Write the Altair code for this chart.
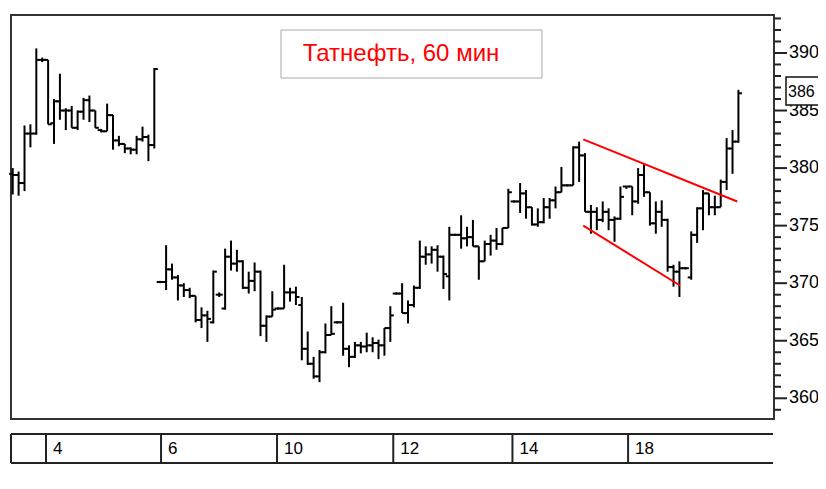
import altair as alt
import pandas as pd

# ---- OHLC data (60-min bars) ----
opens = [379.5, 379.4, 378.7, 383.0, 383.0, 389.4, 389.4, 383.9, 385.8, 385.0,
         385.0, 383.5, 384.9, 385.9, 385.0, 383.3, 383.2, 384.6, 382.4, 382.1,
         381.7, 381.6, 382.5, 382.7, 382.0,
         370.1, 370.1, 371.2, 370.5, 369.8, 369.4, 368.9, 366.8, 367.2, 366.6,
         369.0, 367.8, 372.3, 371.7, 371.9, 369.6, 370.2, 371.0, 366.3, 367.1,
         367.8, 367.8, 369.2, 369.2, 368.1, 364.3, 363.0, 361.9, 364.0, 365.5,
         366.6, 366.6, 364.3, 363.6, 364.6, 364.5, 364.6, 364.8, 364.6, 366.1,
         369.1, 369.1, 367.4, 368.1, 369.6, 372.3, 372.5, 372.9, 372.3, 370.6,
         374.2, 374.2, 373.9, 374.0, 373.2, 371.9, 373.4, 373.7, 373.4, 374.8,
         377.1, 377.1, 377.8, 376.6, 375.1, 375.3, 376.6, 377.2, 377.9, 378.5,
         378.5, 381.8, 381.1, 376.2, 376.2, 375.5, 376.2, 375.5, 375.6, 378.4,
         378.4, 377.1, 379.4, 377.9, 375.2, 376.2, 375.5, 371.4, 371.0, 371.3,
         370.5, 374.2, 376.5, 377.8, 376.6, 376.6, 378.8, 381.7, 382.3]
highs = [380.0, 379.7, 383.7, 383.8, 390.4, 389.6, 389.4, 386.0, 388.2, 385.2,
         385.4, 385.0, 386.1, 386.3, 385.0, 383.4, 385.6, 384.6, 382.8, 382.1,
         381.8, 382.8, 383.6, 382.9, 388.7,
         370.2, 373.3, 371.7, 370.7, 370.0, 369.6, 368.9, 367.9, 367.6, 371.1,
         369.2, 373.0, 373.7, 372.9, 372.0, 371.0, 371.8, 371.1, 367.2, 369.3,
         367.9, 371.6, 369.6, 369.7, 368.8, 365.8, 363.6, 364.2, 366.5, 368.0,
         366.7, 368.3, 364.6, 364.9, 364.9, 365.7, 365.3, 365.1, 366.1, 368.0,
         369.2, 370.0, 368.5, 369.8, 373.7, 373.2, 373.2, 373.3, 372.4, 374.9,
         374.3, 375.9, 374.9, 375.5, 373.2, 373.7, 374.2, 374.8, 374.8, 378.2,
         377.2, 378.7, 378.1, 376.6, 376.5, 377.4, 377.4, 378.4, 380.1, 378.6,
         381.9, 382.3, 381.3, 376.8, 376.6, 377.1, 376.5, 375.8, 378.4, 378.4,
         378.4, 380.0, 380.4, 377.9, 377.1, 377.2, 375.6, 371.6, 371.9, 371.4,
         374.5, 376.6, 378.1, 377.8, 377.6, 379.0, 382.6, 383.3, 386.8]
lows = [377.7, 377.6, 378.0, 381.8, 382.9, 389.2, 383.8, 382.1, 384.2, 383.3,
        383.5, 383.3, 384.2, 384.0, 383.5, 383.1, 383.2, 381.6, 381.9, 381.3,
        381.2, 381.2, 382.3, 380.6, 381.7,
        370.0, 369.4, 370.3, 368.5, 368.8, 368.7, 366.6, 366.1, 364.9, 366.5,
        368.8, 367.7, 371.1, 371.0, 369.5, 369.1, 369.3, 365.4, 364.9, 367.1,
        367.7, 367.8, 368.4, 368.1, 363.3, 362.9, 361.7, 361.4, 363.9, 365.5,
        366.5, 363.7, 362.7, 363.5, 363.9, 364.0, 364.0, 363.4, 363.7, 364.9,
        369.0, 367.4, 366.5, 367.9, 369.5, 371.6, 371.7, 371.0, 369.5, 368.5,
        374.1, 373.0, 373.2, 373.2, 370.3, 371.9, 372.4, 372.9, 373.3, 374.8,
        377.0, 376.1, 375.6, 375.0, 374.9, 375.2, 375.6, 376.5, 377.9, 378.4,
        378.5, 378.8, 376.2, 374.3, 374.6, 375.3, 374.6, 373.6, 375.5, 378.2,
        375.9, 376.9, 377.5, 375.0, 374.3, 374.9, 371.0, 369.7, 368.8, 371.2,
        370.3, 373.5, 374.6, 375.9, 375.9, 376.6, 378.1, 379.5, 382.2]
closes = [379.4, 378.7, 383.0, 383.0, 389.4, 389.4, 383.8, 385.8, 385.0, 385.0,
          383.5, 384.9, 385.9, 385.0, 383.5, 383.2, 384.6, 382.4, 382.1, 381.7,
          381.6, 382.5, 382.7, 382.0, 388.6,
          370.1, 371.2, 370.5, 369.8, 369.4, 368.9, 366.8, 367.2, 366.9, 371.0,
          369.0, 372.3, 371.7, 371.9, 369.6, 370.2, 371.0, 366.3, 367.1, 367.7,
          367.8, 369.2, 369.2, 368.8, 364.3, 363.0, 361.9, 364.0, 365.5, 365.6,
          366.6, 364.3, 363.6, 364.6, 364.5, 364.6, 364.8, 364.6, 366.1, 367.2,
          369.1, 367.4, 368.1, 369.6, 372.3, 372.5, 372.9, 372.3, 370.8, 374.2,
          374.2, 373.9, 374.0, 373.2, 371.9, 373.4, 373.7, 373.4, 374.8, 377.9,
          377.1, 377.8, 376.6, 375.1, 375.3, 376.6, 377.2, 377.9, 378.5, 378.5,
          381.8, 381.1, 376.2, 376.2, 375.5, 376.2, 375.5, 375.6, 377.5, 378.4,
          377.1, 379.4, 377.9, 375.2, 376.2, 375.5, 371.4, 371.0, 371.3, 371.3,
          374.2, 376.5, 377.8, 376.6, 376.6, 378.8, 381.7, 382.3, 386.5]

# ---- day separators on the bottom band (bar-index positions) ----
day_pos = [5.64, 25.14, 44.8, 64.5, 84.7, 104.3]
day_labels = ["4", "6", "10", "12", "14", "18"]

# ---- drawn trend lines (bar index, price) ----
trend_id = ["upper", "upper", "lower", "lower"]
trend_idx = [96.7, 122.8, 96.7, 113.1]
trend_price = [382.5, 377.1, 375.0, 369.8]

major_ticks = [360, 365, 370, 375, 380, 385, 390]
minor_ticks = [v for v in range(359, 394) if v % 5 != 0]

title_text = "Татнефть, 60 мин"
last_label = "386"

FONT = "Liberation Sans, Arial, sans-serif"
W, H = 763, 404

df = pd.DataFrame({"i": list(range(len(opens))), "o": opens, "h": highs,
                   "l": lows, "c": closes})

xs = alt.Scale(domain=[-0.29, 129.03], nice=False, zero=False)
ys = alt.Scale(domain=[358.2, 393.3], nice=False, zero=False)

base = alt.Chart(df)
hl = base.mark_rule(color="black", strokeWidth=2).encode(
    x=alt.X("i:Q", scale=xs, axis=None),
    y=alt.Y("l:Q", scale=ys, axis=None),
    y2="h:Q",
)
op = base.transform_calculate(xo="datum.i - 0.6").mark_rule(
    color="black", strokeWidth=2).encode(
    x=alt.X("xo:Q", scale=xs, axis=None), x2="i:Q",
    y=alt.Y("o:Q", scale=ys, axis=None))
cl = base.transform_calculate(xc="datum.i + 0.6").mark_rule(
    color="black", strokeWidth=2).encode(
    x=alt.X("i:Q", scale=xs, axis=None), x2="xc:Q",
    y=alt.Y("c:Q", scale=ys, axis=None))

# right price axis drawn from tick values
minor = alt.Chart(pd.DataFrame({"v": minor_ticks})).mark_rule(
    color="#222", strokeWidth=2).encode(
    y=alt.Y("v:Q", scale=ys, axis=None), x=alt.value(W), x2=alt.value(W + 7))
mdf = pd.DataFrame({"v": major_ticks})
major = alt.Chart(mdf).mark_rule(color="#222", strokeWidth=2).encode(
    y=alt.Y("v:Q", scale=ys, axis=None), x=alt.value(W), x2=alt.value(W + 13))
mlabels = alt.Chart(mdf).mark_text(
    align="left", baseline="middle", fontSize=18, font=FONT, color="#000"
).encode(y=alt.Y("v:Q", scale=ys, axis=None), x=alt.value(W + 15),
         text="v:Q")

trend = alt.Chart(pd.DataFrame({"id": trend_id, "i": trend_idx,
                                "p": trend_price})).mark_line(
    color="#ff0000", strokeWidth=2).encode(
    x=alt.X("i:Q", scale=xs, axis=None),
    y=alt.Y("p:Q", scale=ys, axis=None), detail="id:N")

tdf = pd.DataFrame({"t": [title_text]})
tbox = alt.Chart(tdf).mark_rect(fill="white", stroke="#a8a8a8",
                                strokeWidth=1).encode(
    x=alt.value(270), x2=alt.value(531), y=alt.value(15), y2=alt.value(63))
ttext = alt.Chart(tdf).mark_text(color="#ff0000", fontSize=24, font=FONT,
                                 align="center", baseline="middle").encode(
    x=alt.value(390), y=alt.value(39), text="t:N")

ldf = pd.DataFrame({"t": [last_label]})
pbox = alt.Chart(ldf).mark_rect(fill="white", stroke="#111",
                                strokeWidth=1.5).encode(
    x=alt.value(775), x2=alt.value(825), y=alt.value(62), y2=alt.value(90))
ptext = alt.Chart(ldf).mark_text(color="#000", fontSize=16, font=FONT,
                                 align="left", baseline="middle").encode(
    x=alt.value(777), y=alt.value(77), text="t:N")

# bottom band with day separators
one = pd.DataFrame({"k": [0]})
band_top = alt.Chart(one).mark_rule(color="#222", strokeWidth=2).encode(
    x=alt.value(0), x2=alt.value(762), y=alt.value(419))
band_bot = alt.Chart(one).mark_rule(color="#222", strokeWidth=2).encode(
    x=alt.value(0), x2=alt.value(762), y=alt.value(448))
band_left = alt.Chart(one).mark_rule(color="#222", strokeWidth=2).encode(
    x=alt.value(0), y=alt.value(419), y2=alt.value(448))
ddf = pd.DataFrame({"p": day_pos, "lab": day_labels})
dividers = alt.Chart(ddf).mark_rule(color="#222", strokeWidth=2).encode(
    x=alt.X("p:Q", scale=xs, axis=None), y=alt.value(419), y2=alt.value(448))
dlabels = alt.Chart(ddf).mark_text(align="left", baseline="middle", dx=7,
                                   fontSize=17, font=FONT, color="#000").encode(
    x=alt.X("p:Q", scale=xs, axis=None), y=alt.value(434), text="lab:N")

chart = alt.layer(
    hl, op, cl, minor, major, mlabels, trend, tbox, ttext, pbox, ptext,
    band_top, band_bot, band_left, dividers, dlabels
).properties(
    width=W, height=H,
    autosize=alt.AutoSizeParams(type="none"),
    padding={"left": 3, "top": 7, "right": 44, "bottom": 55},
    background="white",
).configure_view(stroke="#333", strokeWidth=2)

chart.save("out.html", embed_options={"renderer": "svg", "actions": False})
